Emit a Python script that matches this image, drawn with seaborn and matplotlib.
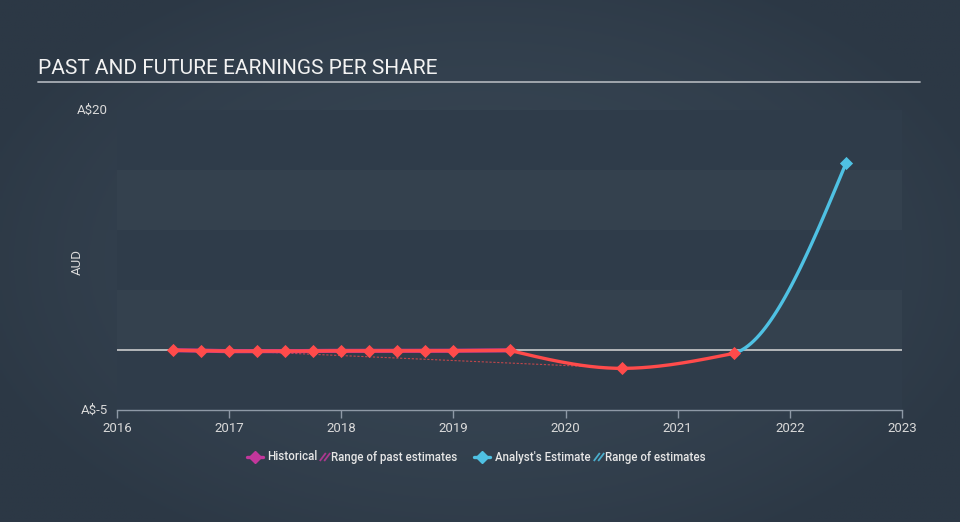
import numpy as np
import pandas as pd
import matplotlib
matplotlib.use("Agg")
import matplotlib.pyplot as plt
from matplotlib.lines import Line2D
import seaborn as sns

# ---------------- data ----------------
hist_years = [2016.5, 2016.75, 2017.0, 2017.25, 2017.5, 2017.75, 2018.0,
              2018.25, 2018.5, 2018.75, 2019.0, 2019.5]
hist_eps = [-0.02, -0.05, -0.1, -0.1, -0.1, -0.08, -0.07,
            -0.07, -0.07, -0.07, -0.06, -0.03]
recent_years = [2020.5, 2021.5]
recent_eps = [-1.53, -0.28]
forecast_years = [2022.5]
forecast_eps = [15.55]
past_est_years = [2017.0, 2020.5]
past_est_eps = [-0.05, -1.5]

x_ticks = [2016, 2017, 2018, 2019, 2020, 2021, 2022, 2023]
y_tick_vals = [-5, 20]
y_tick_labels = ["A$-5", "A$20"]
title = "PAST AND FUTURE EARNINGS PER SHARE"
legend_labels = ["Historical", "Range of past estimates",
                 "Analyst's Estimate", "Range of estimates"]

# ------------- helper: monotone cubic path (like d3.curveMonotoneX) -------------
def monotone_path(xs, ys, n=40):
    xs = np.asarray(xs, float); ys = np.asarray(ys, float)
    h = np.diff(xs); s = np.diff(ys) / h
    m = np.zeros(len(xs))
    for i in range(1, len(xs) - 1):
        p = (s[i - 1] * h[i] + s[i] * h[i - 1]) / (h[i - 1] + h[i])
        m[i] = (np.sign(s[i - 1]) + np.sign(s[i])) * min(abs(s[i - 1]), abs(s[i]), 0.5 * abs(p))
    if len(xs) > 2:
        m[0] = (3 * s[0] - m[1]) / 2
        m[-1] = (3 * s[-1] - m[-2]) / 2
    else:
        m[:] = s[0]
    px, py = [], []
    for i in range(len(xs) - 1):
        t = np.linspace(0, 1, n)
        h00 = 2 * t**3 - 3 * t**2 + 1; h10 = t**3 - 2 * t**2 + t
        h01 = -2 * t**3 + 3 * t**2; h11 = t**3 - t**2
        y = h00 * ys[i] + h10 * h[i] * m[i] + h01 * ys[i + 1] + h11 * h[i] * m[i + 1]
        px.extend(xs[i] + t * h[i]); py.extend(y)
    return np.array(px), np.array(py)

hx, hy = monotone_path(hist_years, hist_eps)
rx, ry = monotone_path([hist_years[-1]] + recent_years, [hist_eps[-1]] + recent_eps)
bx, by = monotone_path(recent_years + forecast_years, recent_eps + forecast_eps)
bmask = bx >= recent_years[-1] - 1e-9

hist_df = pd.DataFrame({"x": hx, "y": hy})
red_df = pd.DataFrame({"x": np.r_[hx, rx], "y": np.r_[hy, ry]})
blue_df = pd.DataFrame({"x": bx[bmask], "y": by[bmask]})
pts_red = pd.DataFrame({"x": hist_years + recent_years, "y": hist_eps + recent_eps})
pts_blue = pd.DataFrame({"x": forecast_years, "y": forecast_eps})
past_df = pd.DataFrame({"x": past_est_years, "y": past_est_eps})

# ---------------- style ----------------
sns.set_theme(style="dark")
plt.rcParams["font.family"] = ["Roboto", "DejaVu Sans"]

RED = "#ff4b4b"
PURPLE = "#c2379b"
BLUE = "#4fc1e3"
TEXT = "#e6e6e6"
AXIS = "#8e99a6"

fig = plt.figure(figsize=(9.6, 5.22), dpi=100)

# background gradient
bg = fig.add_axes([0, 0, 1, 1], zorder=-10)
gx = np.linspace(-1, 1, 300)
gy = np.linspace(-1, 1, 200)
GX, GY = np.meshgrid(gx, gy)
r = np.clip(np.sqrt((GX * 0.9) ** 2 + (GY * 0.8) ** 2), 0, 1)
c_center = np.array([0x37, 0x45, 0x53]) / 255
c_edge = np.array([0x2c, 0x38, 0x45]) / 255
img = c_center[None, None, :] * (1 - r[..., None] ** 2) + c_edge[None, None, :] * (r[..., None] ** 2)
bg.imshow(img, aspect="auto", extent=[0, 1, 0, 1])
bg.set_axis_off()

ax = fig.add_axes([117 / 960, 1 - 410 / 522, 785 / 960, 300 / 522])
ax.set_facecolor("none")
ax.set_xlim(2016, 2023)
ax.set_ylim(-5, 20)

# bands
DARK, LIGHT = "#2f3c4a", "#34414e"
for lo, hi, col in [(15, 20, DARK), (10, 15, LIGHT), (5, 10, DARK),
                    (0, 5, LIGHT), (-5, 0, DARK)]:
    ax.axhspan(lo, hi, color=col, zorder=0, lw=0)
ax.axhline(0, color="#d8d8d8", lw=1.1, zorder=1)

# past estimate range line
sns.lineplot(data=past_df, x="x", y="y", ax=ax, color=RED, lw=0.8,
             linestyle=(0, (2, 1.5)), alpha=0.7, zorder=2)

# lines
sns.lineplot(data=blue_df, x="x", y="y", ax=ax, color=BLUE, lw=2.4, zorder=3,
             sort=False, estimator=None)
sns.lineplot(data=hist_df, x="x", y="y", ax=ax, color=PURPLE, lw=3.0, zorder=3,
             sort=False, estimator=None)
sns.lineplot(data=red_df, x="x", y="y", ax=ax, color=RED, lw=2.4, zorder=4,
             sort=False, estimator=None)
sns.scatterplot(data=pts_red, x="x", y="y", ax=ax, color=RED, marker="D",
                s=45, linewidth=0, zorder=5)
sns.scatterplot(data=pts_blue, x="x", y="y", ax=ax, color=BLUE, marker="D",
                s=45, linewidth=0, zorder=5)

# axes styling
for sp in ["top", "right", "left"]:
    ax.spines[sp].set_visible(False)
ax.spines["bottom"].set_color(AXIS)
ax.spines["bottom"].set_linewidth(1.0)
ax.set_xticks(x_ticks)
ax.set_xticklabels([str(t) for t in x_ticks])
ax.tick_params(axis="x", colors=AXIS, length=6, width=1, direction="out",
               labelcolor="#d9d9d9", labelsize=9.5, pad=3, bottom=True)
ax.set_yticks([])
ax.set_xlabel(""); ax.set_ylabel("")
ax.grid(False)

for v, lab in zip(y_tick_vals, y_tick_labels):
    ax.text(-0.012, (v + 5) / 25, lab, transform=ax.transAxes, ha="right",
            va="center", color="#d9d9d9", fontsize=9.5)
fig.text(77 / 960, 1 - 262 / 522, "AUD", rotation=90, ha="center", va="center",
         color="#d9d9d9", fontsize=9.5)

# title
fig.text(38 / 960, 1 - 69 / 522, title, ha="left", va="center", color="#f2f2f2",
         fontsize=15)
fig.add_artist(Line2D([38 / 960, 920 / 960], [1 - 82 / 522, 1 - 82 / 522],
                      color="#a9aeb5", lw=1.3, transform=fig.transFigure))

# legend (manual)
ly_px = 457
ly = 1 - ly_px / 522
def leg_marker(xc, col):
    fig.add_artist(Line2D([(xc - 8) / 960, (xc + 8) / 960], [ly, ly], color=col, lw=2.4,
                          transform=fig.transFigure))
    fig.add_artist(Line2D([xc / 960], [ly], color=col, marker="D", markersize=6.5,
                          lw=0, transform=fig.transFigure))

def leg_hatch(xc, col):
    for off in (-2.2, 2.2):
        x0, x1 = xc + off - 3, xc + off + 3
        fig.add_artist(Line2D([x0 / 960, x1 / 960],
                              [1 - (ly_px + 4) / 522, 1 - (ly_px - 4) / 522],
                              color=col, lw=1.3, alpha=0.85, solid_capstyle="butt",
                              transform=fig.transFigure))

leg_marker(255, PURPLE)
fig.text(267 / 960, ly, legend_labels[0], ha="left", va="center", color=TEXT,
         fontsize=8.3, fontweight="medium")
leg_hatch(325, PURPLE)
fig.text(331 / 960, ly, legend_labels[1], ha="left", va="center", color=TEXT,
         fontsize=8.3, fontweight="medium")
leg_marker(482, BLUE)
fig.text(495 / 960, ly, legend_labels[2], ha="left", va="center", color=TEXT,
         fontsize=8.3, fontweight="medium")
leg_hatch(599, BLUE)
fig.text(605 / 960, ly, legend_labels[3], ha="left", va="center", color=TEXT,
         fontsize=8.3, fontweight="medium")

fig.savefig("out.png", dpi=100, facecolor=fig.get_facecolor())
